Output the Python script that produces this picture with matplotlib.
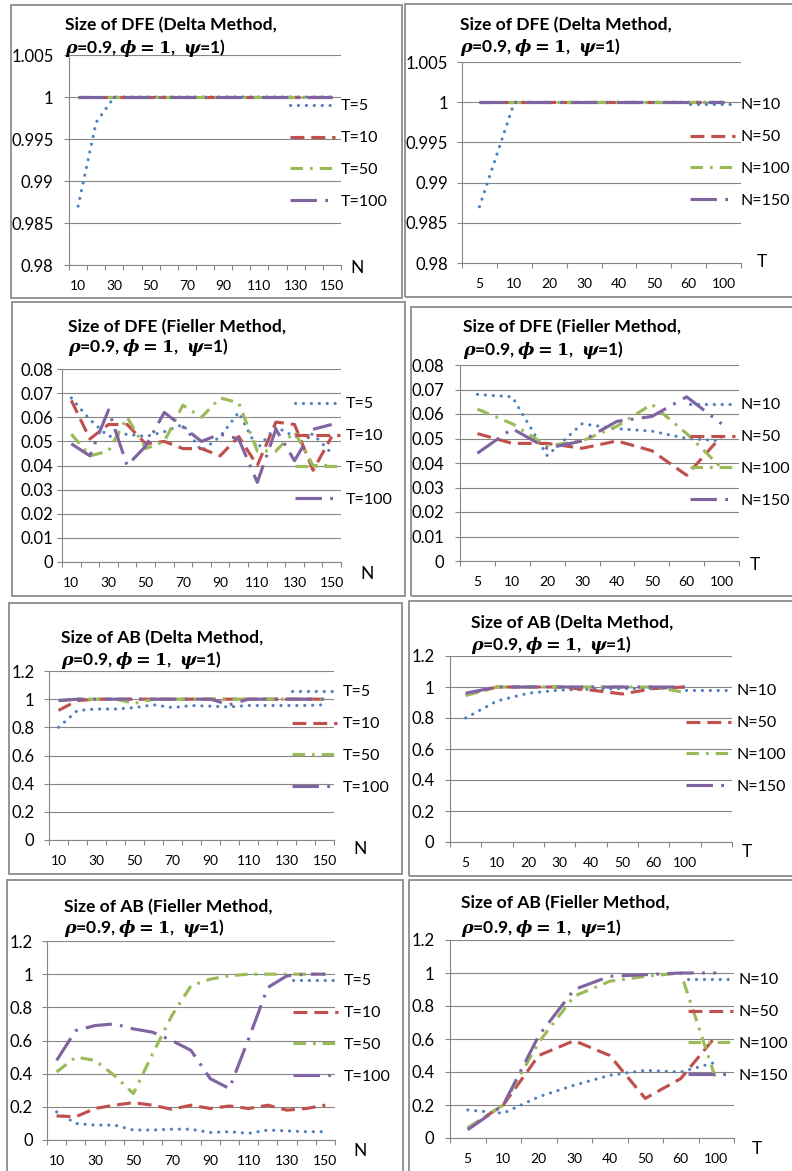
import numpy as np
import matplotlib
matplotlib.use("Agg")
import matplotlib.pyplot as plt
from matplotlib.patches import Rectangle
from matplotlib.ticker import FuncFormatter, FixedLocator
from matplotlib import font_manager as fm

# ---------------- data ----------------
N_cats = ["10", "20", "30", "40", "50", "60", "70", "80", "90", "100", "110", "120", "130", "140", "150"]
T_cats = ["5", "10", "20", "30", "40", "50", "60", "100"]
T_labels = ["T=5", "T=10", "T=50", "T=100"]
N_labels = ["N=10", "N=50", "N=100", "N=150"]

# Size of DFE (Delta) by N
dfe_delta_N_T5 = [0.987, 0.997, 1, 1, 1, 1, 1, 1, 1, 1, 1, 1, 1, 1, 1]
dfe_delta_N_T10 = [1, 1, 1, 1, 1, 1, 1, 1, 1, 1, 1, 1, 1, 1, 1]
dfe_delta_N_T50 = [1, 1, 1, 1, 1, 1, 1, 1, 1, 1, 1, 1, 1, 1, 1]
dfe_delta_N_T100 = [1, 1, 1, 1, 1, 1, 1, 1, 1, 1, 1, 1, 1, 1, 1]

# Size of DFE (Delta) by T
dfe_delta_T_N10 = [0.987, 1, 1, 1, 1, 1, 1, 1]
dfe_delta_T_N50 = [1, 1, 1, 1, 1, 1, 1, 1]
dfe_delta_T_N100 = [1, 1, 1, 1, 1, 1, 1, 1]
dfe_delta_T_N150 = [1, 1, 1, 1, 1, 1, 1, 1]

# Size of DFE (Fieller) by N
dfe_fieller_N_T5 = [0.068, 0.059, 0.052, 0.053, 0.052, 0.054, 0.057, 0.046, 0.052, 0.062, 0.047, 0.056, 0.052, 0.053, 0.045]
dfe_fieller_N_T10 = [0.067, 0.051, 0.057, 0.057, 0.049, 0.050, 0.047, 0.047, 0.044, 0.052, 0.040, 0.058, 0.057, 0.038, 0.052]
dfe_fieller_N_T50 = [0.053, 0.044, 0.046, 0.060, 0.047, 0.050, 0.065, 0.060, 0.068, 0.066, 0.046, 0.046, 0.054, 0.040, 0.040]
dfe_fieller_N_T100 = [0.049, 0.044, 0.063, 0.040, 0.048, 0.062, 0.056, 0.050, 0.053, 0.051, 0.033, 0.055, 0.042, 0.055, 0.057]

# Size of DFE (Fieller) by T
dfe_fieller_T_N10 = [0.068, 0.067, 0.043, 0.056, 0.054, 0.053, 0.050, 0.049]
dfe_fieller_T_N50 = [0.052, 0.048, 0.048, 0.046, 0.049, 0.045, 0.035, 0.051]
dfe_fieller_T_N100 = [0.062, 0.056, 0.047, 0.049, 0.055, 0.064, 0.052, 0.038]
dfe_fieller_T_N150 = [0.044, 0.054, 0.046, 0.049, 0.057, 0.059, 0.067, 0.056]

# Size of AB (Delta) by N
ab_delta_N_T5 = [0.80, 0.92, 0.93, 0.93, 0.94, 0.96, 0.94, 0.955, 0.95, 0.945, 0.955, 0.955, 0.955, 0.955, 0.96]
ab_delta_N_T10 = [0.92, 0.99, 1, 1, 1, 1, 1, 1, 1, 1, 1, 1, 1, 1, 1]
ab_delta_N_T50 = [0.99, 1, 1, 1, 0.97, 1, 1, 1, 1, 1, 1, 1, 1, 1, 1]
ab_delta_N_T100 = [0.99, 1, 1, 1, 1, 1, 1, 1, 1, 0.96, 1, 1, 1, 1, 1]

# Size of AB (Delta) by T
ab_delta_T_N10 = [0.80, 0.91, 0.96, 0.98, 0.985, 0.99, 0.99, 1.0]
ab_delta_T_N50 = [0.95, 1, 1, 1, 0.98, 0.955, 0.99, 1]
ab_delta_T_N100 = [0.945, 1, 1, 1, 1, 1, 1, 0.965]
ab_delta_T_N150 = [0.96, 1, 1, 1, 1, 1, 1, 1]

# Size of AB (Fieller) by N
ab_fieller_N_T5 = [0.17, 0.10, 0.09, 0.09, 0.06, 0.06, 0.065, 0.065, 0.045, 0.05, 0.04, 0.06, 0.055, 0.05, 0.05]
ab_fieller_N_T10 = [0.145, 0.14, 0.19, 0.21, 0.225, 0.21, 0.185, 0.21, 0.19, 0.205, 0.19, 0.21, 0.18, 0.19, 0.21]
ab_fieller_N_T50 = [0.41, 0.50, 0.48, 0.39, 0.28, 0.52, 0.75, 0.93, 0.97, 0.99, 1.0, 1.0, 1.0, 1.0, 1.0]
ab_fieller_N_T100 = [0.48, 0.66, 0.69, 0.70, 0.67, 0.65, 0.60, 0.54, 0.37, 0.31, 0.61, 0.92, 0.99, 1.0, 1.0]

# Size of AB (Fieller) by T
ab_fieller_T_N10 = [0.17, 0.15, 0.25, 0.32, 0.38, 0.41, 0.40, 0.46]
ab_fieller_T_N50 = [0.06, 0.20, 0.50, 0.59, 0.50, 0.24, 0.36, 0.62]
ab_fieller_T_N100 = [0.06, 0.20, 0.58, 0.86, 0.95, 0.98, 1.0, 0.35]
ab_fieller_T_N150 = [0.05, 0.20, 0.62, 0.90, 0.98, 0.99, 1.0, 1.0]

# ---------------- style ----------------
W, H = 792, 1171
avail = {f.name for f in fm.fontManager.ttflist}
FONT = "Lato" if "Lato" in avail else "DejaVu Sans"
XFONT = "Liberation Sans Narrow" if "Liberation Sans Narrow" in avail else FONT
plt.rcParams["font.family"] = [FONT, "DejaVu Sans"]
plt.rcParams["mathtext.fontset"] = "custom"
plt.rcParams["mathtext.rm"] = "DejaVu Serif:bold"
plt.rcParams["mathtext.it"] = "DejaVu Serif:italic:bold"
plt.rcParams["mathtext.bf"] = "DejaVu Serif:bold"
plt.rcParams["lines.scale_dashes"] = False

GRAY = "#868686"
COLORS = ["#4F81BD", "#C0504D", "#9BBB59", "#8064A2"]
LW = 2.25
STYLES = [
    dict(dashes=(0.1, 5.6), dash_capstyle="round"),
    dict(dashes=(10, 5)),
    dict(dashes=(9, 5, 2, 5)),
    dict(dashes=(19, 6, 2, 6)),
]

fig = plt.figure(figsize=(W / 100, H / 100), dpi=100)


def frac_rect(x0, y0, x1, y1):
    return [x0 / W, 1 - y1 / H, (x1 - x0) / W, (y1 - y0) / H]


def fx(x):
    return x / W


def fy(y):
    return 1 - y / H


def yfmt(v, p):
    return f"{round(v, 4):g}"


panels = [
    dict(box=(11, 5, 402, 298), ax=(69, 55, 341, 265), cats=N_cats, skip=True, slots=15,
         series=[dfe_delta_N_T5, dfe_delta_N_T10, dfe_delta_N_T50, dfe_delta_N_T100], labels=T_labels,
         ylim=(0.98, 1.005), nt=6, title="Size of DFE (Delta Method,", t=(65, 25, 48),
         leg=(290, 154), xl=("N", 357, 268), ypad=7.5),
    dict(box=(405, 4, 800, 297), ax=(462, 62, 741, 263), cats=T_cats, skip=False, slots=8,
         series=[dfe_delta_T_N10, dfe_delta_T_N50, dfe_delta_T_N100, dfe_delta_T_N150], labels=N_labels,
         ylim=(0.98, 1.005), nt=6, title="Size of DFE (Delta Method,", t=(460, 25, 47),
         leg=(690, 153), xl=("T", 762, 262), ypad=6.5),
    dict(box=(12, 302, 405, 596), ax=(62, 369, 341, 562), cats=N_cats, skip=True, slots=15,
         series=[dfe_fieller_N_T5, dfe_fieller_N_T10, dfe_fieller_N_T50, dfe_fieller_N_T100], labels=T_labels,
         ylim=(0.0, 0.08), nt=9, title="Size of DFE (Fieller Method,", t=(68, 327, 347),
         leg=(295, 452), xl=("N", 367, 574), ypad=3.0),
    dict(box=(411, 307, 800, 596), ax=(460, 365, 739, 561), cats=T_cats, skip=False, slots=8,
         series=[dfe_fieller_T_N10, dfe_fieller_T_N50, dfe_fieller_T_N100, dfe_fieller_T_N150], labels=N_labels,
         ylim=(0.0, 0.08), nt=9, title="Size of DFE (Fieller Method,", t=(463, 327, 350),
         leg=(690, 453), xl=("T", 755, 565), ypad=7.5),
    dict(box=(9, 603, 402, 874), ax=(49, 671, 334, 840), cats=N_cats, skip=True, slots=15,
         series=[ab_delta_N_T5, ab_delta_N_T10, ab_delta_N_T50, ab_delta_N_T100], labels=T_labels,
         ylim=(0.0, 1.2), nt=7, title="Size of AB (Delta Method,", t=(61, 638, 660),
         leg=(292, 740), xl=("N", 360, 849), ypad=7.0),
    dict(box=(409, 601, 800, 876), ax=(450, 656, 732, 842), cats=T_cats, skip=False, slots=9,
         series=[ab_delta_T_N10, ab_delta_T_N50, ab_delta_T_N100, ab_delta_T_N150], labels=N_labels,
         ylim=(0.0, 1.2), nt=7, title="Size of AB (Delta Method,", t=(471, 623, 645),
         leg=(686, 739), xl=("T", 747, 852), ypad=7.5),
    dict(box=(7, 880, 403, 1180), ax=(47, 941, 335, 1140), cats=N_cats, skip=True, slots=15,
         series=[ab_fieller_N_T5, ab_fieller_N_T10, ab_fieller_N_T50, ab_fieller_N_T100], labels=T_labels,
         ylim=(0.0, 1.2), nt=7, title="Size of AB (Fieller Method,", t=(64, 907, 928),
         leg=(293, 1029), xl=("N", 360, 1151), ypad=6.5),
    dict(box=(409, 880, 800, 1180), ax=(450, 940, 734, 1138), cats=T_cats, skip=False, slots=8,
         series=[ab_fieller_T_N10, ab_fieller_T_N50, ab_fieller_T_N100, ab_fieller_T_N150], labels=N_labels,
         ylim=(0.0, 1.2), nt=7, title="Size of AB (Fieller Method,", t=(461, 903, 928),
         leg=(688, 1028), xl=("T", 757, 1149), ypad=7.5),
]

TICK_FS = 12
LEG_FS = 11.5
TITLE_FS = 12.6
XTICK_FS = 11 if XFONT != FONT else 10

for p in panels:
    x0, y0, x1, y1 = p["box"]
    fig.patches.append(Rectangle((fx(x0), fy(y1)), (x1 - x0) / W, (y1 - y0) / H,
                                 transform=fig.transFigure, fill=False,
                                 edgecolor="#8c8c8c", linewidth=1.3, zorder=0))
    ax = fig.add_axes(frac_rect(*p["ax"]))
    ax.set_facecolor("none")
    xs = np.arange(len(p["cats"]))
    handles = []
    for vals, col, st in zip(p["series"], COLORS, STYLES):
        ln, = ax.plot(xs, vals, color=col, lw=LW, solid_capstyle="butt", **st)
        handles.append(ln)
    ax.set_xlim(-0.5, p["slots"] - 0.5)
    ax.set_ylim(*p["ylim"])
    ax.set_yticks(np.linspace(p["ylim"][0], p["ylim"][1], p["nt"]))
    ax.yaxis.set_major_formatter(FuncFormatter(yfmt))
    ax.yaxis.grid(True, color=GRAY, linewidth=0.8)
    ax.set_axisbelow(True)
    for s in ["top", "right"]:
        ax.spines[s].set_visible(False)
    for s in ["left", "bottom"]:
        ax.spines[s].set_color(GRAY)
        ax.spines[s].set_linewidth(0.8)
    ax.tick_params(axis="y", direction="out", length=3.6, width=0.8, color=GRAY,
                   labelsize=TICK_FS, pad=p["ypad"], labelcolor="black")
    ax.xaxis.set_major_locator(FixedLocator(np.arange(p["slots"] + 1) - 0.5))
    ax.xaxis.set_minor_locator(FixedLocator(xs))
    ax.tick_params(axis="x", which="major", direction="out", length=3.6, width=0.8,
                   color=GRAY, labelbottom=False)
    ax.tick_params(axis="x", which="minor", length=0, pad=11)
    labs = [c if (not p["skip"] or i % 2 == 0) else "" for i, c in enumerate(p["cats"])]
    ax.set_xticks(xs, labels=labs, minor=True)
    for t in ax.get_xticklabels(minor=True):
        t.set_fontfamily([XFONT, "DejaVu Sans"])
        t.set_fontsize(XTICK_FS)
    lx, ly = p["leg"]
    ax.legend(handles, p["labels"], loc="center left",
              bbox_to_anchor=(fx(lx), fy(ly)), bbox_transform=fig.transFigure,
              frameon=False, borderpad=0, borderaxespad=0, handlelength=2.8,
              handletextpad=0.35, labelspacing=1.1, fontsize=LEG_FS)
    tx, t1, t2 = p["t"]
    fig.text(fx(tx), fy(t1), p["title"], fontsize=TITLE_FS, fontweight="bold",
             ha="left", va="center")
    fig.text(fx(tx), fy(t2), r"$\rho$=0.9, $\phi = 1$,  $\psi$=1)", fontsize=TITLE_FS,
             fontweight="bold", ha="left", va="center")
    lab, lxp, lyp = p["xl"]
    fig.text(fx(lxp), fy(lyp), lab, fontsize=12.5, ha="center", va="center")

fig.savefig("out.png", dpi=100)
